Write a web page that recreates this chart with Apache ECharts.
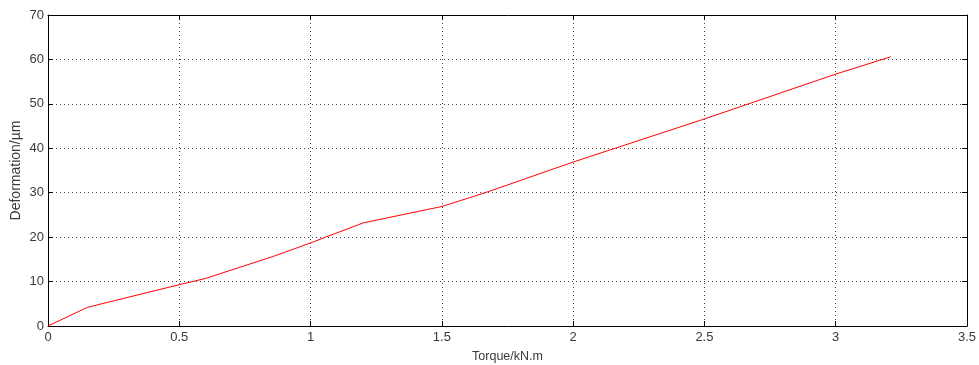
<!DOCTYPE html>
<html>
<head>
<meta charset="utf-8">
<script src="https://cdn.jsdelivr.net/npm/echarts@6/dist/echarts.min.js"></script>
<style>html,body{margin:0;padding:0;background:#fff}#c{width:979px;height:365px}</style>
</head>
<body>
<div id="c"></div>
<script>
var torque = [0, 0.15, 0.5, 0.6, 0.86, 1.0, 1.2, 1.5, 1.67, 2.0, 2.5, 3.0, 3.21];
var deformation = [0, 4.2, 9.3, 10.7, 15.7, 18.7, 23.2, 26.9, 30.1, 36.9, 46.6, 56.7, 60.6];
var xTicks = [0, 0.5, 1, 1.5, 2, 2.5, 3, 3.5];
var yTicks = [0, 10, 20, 30, 40, 50, 60, 70];
var xName = 'Torque/kN.m';
var yName = 'Deformation/\u00b5m';

var data = torque.map(function (t, i) { return [t, deformation[i]]; });
var font = 'Liberation Sans, Arial, sans-serif';
var lblColor = '#3a3a3a';
function common(show) {
  return {
    type: 'value',
    axisLine: { show: true, onZero: false, lineStyle: { color: '#000', width: 1 } },
    axisTick: { show: true, inside: true, length: 5, lineStyle: { color: '#000' } },
    axisLabel: { show: show, color: lblColor, fontFamily: font, fontSize: 13 },
    splitLine: { show: false }
  };
}
var xMain = Object.assign(common(true), {
  min: xTicks[0], max: xTicks[xTicks.length - 1], interval: 0.5, position: 'bottom',
  name: xName, nameLocation: 'middle', nameGap: 24,
  nameTextStyle: { color: lblColor, fontFamily: font, fontSize: 12.5 },
  axisLabel: { color: lblColor, fontFamily: font, fontSize: 13, margin: 5 },
  splitLine: { show: true, lineStyle: { color: '#444', type: [1, 3], width: 1 } }
});
var xTop = Object.assign(common(false), {
  min: xTicks[0], max: xTicks[xTicks.length - 1], interval: 0.5, position: 'top'
});
var yMain = Object.assign(common(true), {
  min: yTicks[0], max: yTicks[yTicks.length - 1], interval: 10, position: 'left',
  name: yName, nameLocation: 'middle', nameGap: 25, nameMoveOverlap: false,
  nameTextStyle: { color: lblColor, fontFamily: font, fontSize: 14 },
  axisLabel: { color: lblColor, fontFamily: font, fontSize: 13, margin: 4 },
  splitLine: { show: true, lineStyle: { color: '#444', type: [1, 3], width: 1 } }
});
var yRight = Object.assign(common(false), {
  min: yTicks[0], max: yTicks[yTicks.length - 1], interval: 10, position: 'right'
});

var chart = echarts.init(document.getElementById('c'), null, { renderer: 'canvas' });
chart.setOption({
  animation: false,
  backgroundColor: '#fff',
  grid: { left: 48, right: 12, top: 15, bottom: 39, containLabel: false, outerBoundsMode: 'none' },
  xAxis: [xMain, xTop],
  yAxis: [yMain, yRight],
  series: [{
    type: 'line',
    data: data,
    xAxisIndex: 0, yAxisIndex: 0,
    showSymbol: false,
    lineStyle: { color: '#ff0000', width: 1 },
    itemStyle: { color: '#ff0000' }
  }]
});
</script>
</body>
</html>
